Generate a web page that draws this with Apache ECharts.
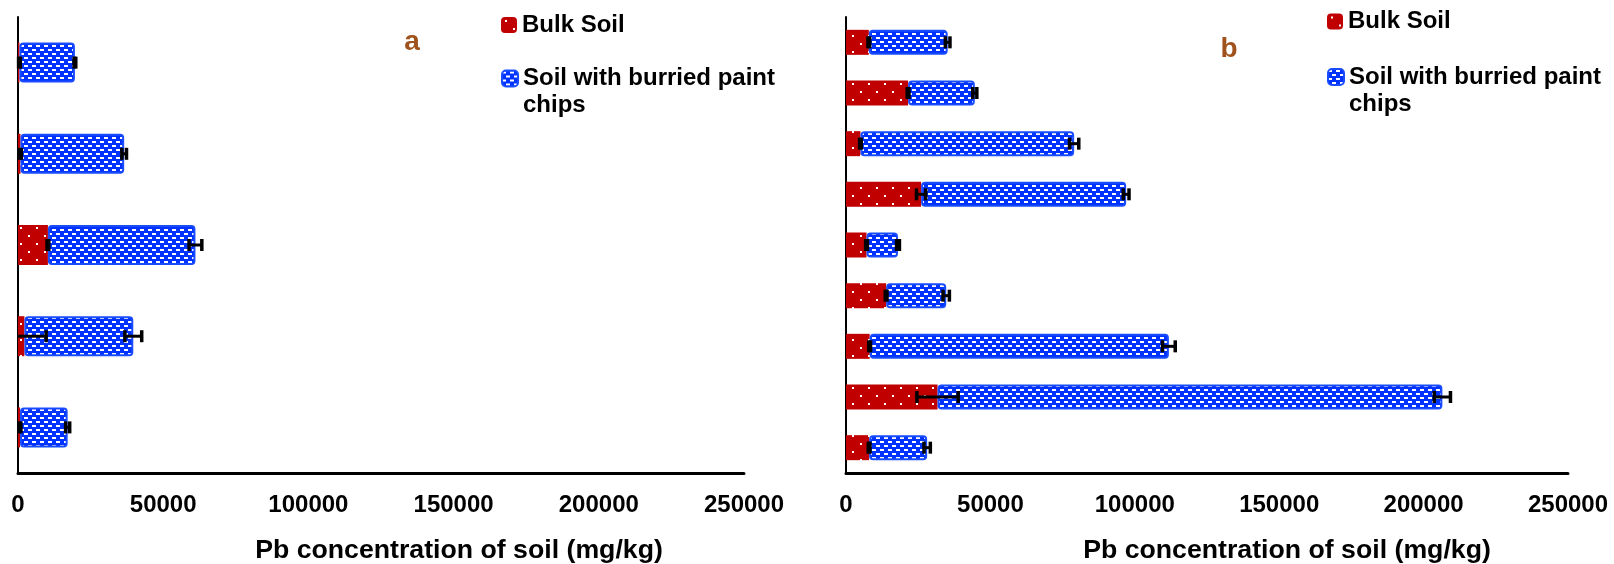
<!DOCTYPE html>
<html>
<head>
<meta charset="utf-8">
<script src="https://cdn.jsdelivr.net/npm/echarts@6/dist/echarts.min.js"></script>
<style>
html,body{margin:0;padding:0;background:#fff;}
#chart{width:1614px;height:564px;}
</style>
</head>
<body>
<div id="chart"></div>
<script>
// ---- data ----
const catsA = ['A1', 'A2', 'A3', 'A4', 'A5'];
const bulkA = [500, 860, 10300, 2200, 700];
const paintA = [19100, 35700, 50800, 37500, 16400];
const bulkErrA = [300, 300, 300, 7500, 300];
const paintErrA = [300, 800, 2200, 2900, 700];

const catsB = ['B1', 'B2', 'B3', 'B4', 'B5', 'B6', 'B7', 'B8', 'B9'];
const bulkB = [7900, 21500, 5000, 26000, 7100, 13900, 8200, 31700, 8000];
const paintB = [27300, 23100, 74000, 71000, 10900, 20800, 103600, 174800, 20100];
const bulkErrB = [300, 300, 300, 1600, 300, 300, 300, 7150, 300];
const paintErrB = [800, 700, 1600, 1000, 500, 1100, 2200, 2800, 1100];

const xTicks = [0, 50000, 100000, 150000, 200000, 250000];
const seriesNames = ['Bulk Soil', 'Soil with burried paint chips'];
const panelLabels = ['a', 'b'];
const axisTitle = 'Pb concentration of soil (mg/kg)';

// ---- patterns ----
function bluePattern() {
  const c = document.createElement('canvas');
  c.width = 8; c.height = 8;
  const g = c.getContext('2d');
  g.fillStyle = '#0033ff'; g.fillRect(0, 0, 8, 8);
  g.fillStyle = '#ffffff';
  g.fillRect(0, 1, 4, 2);
  g.fillRect(4, 5, 4, 2);
  return c;
}
function redPattern() {
  const c = document.createElement('canvas');
  c.width = 16; c.height = 16;
  const g = c.getContext('2d');
  g.fillStyle = '#c00000'; g.fillRect(0, 0, 16, 16);
  g.fillStyle = '#ffffff';
  g.fillRect(4, 3, 2, 2);
  g.fillRect(12, 11, 2, 2);
  return c;
}
const blueFill = { image: bluePattern(), repeat: 'repeat' };
const redFill = { image: redPattern(), repeat: 'repeat' };

const FONT = '"Liberation Sans", Arial, sans-serif';

function errSeries(idx, centers, errs) {
  return {
    type: 'custom',
    xAxisIndex: idx, yAxisIndex: idx,
    data: centers.map((c, i) => [i, c, errs[i]]),
    encode: { x: 1, y: 0 },
    z: 10,
    silent: true,
    renderItem: function (params, api) {
      const cat = api.value(0), v = api.value(1), e = api.value(2);
      const lowRaw = v - e;
      const lo = Math.max(0, lowRaw), hi = v + e;
      const p0 = api.coord([lo, cat]);
      const p1 = api.coord([hi, cat]);
      const y = p0[1];
      const st = { stroke: '#000', lineWidth: 3 };
      const ch = [
        { type: 'line', shape: { x1: p0[0], y1: y, x2: p1[0], y2: y }, style: st },
        { type: 'line', shape: { x1: p1[0], y1: y - 6, x2: p1[0], y2: y + 6 }, style: { stroke: '#000', lineWidth: 3.5 } }
      ];
      if (lowRaw >= 0) {
        ch.push({ type: 'line', shape: { x1: p0[0], y1: y - 6, x2: p0[0], y2: y + 6 }, style: { stroke: '#000', lineWidth: 3.5 } });
      }
      return { type: 'group', children: ch };
    }
  };
}

function cum(a, b) { return a.map((v, i) => v + b[i]); }

const grids = [
  { left: 18, top: 17, width: 726, height: 456 },
  { left: 846, top: 17, width: 722, height: 456 }
];

function xAxisCfg(gi) {
  return {
    type: 'value', gridIndex: gi, min: xTicks[0], max: xTicks[xTicks.length - 1], interval: 50000,
    axisLine: { show: true, lineStyle: { color: '#000', width: 3 } },
    axisTick: { show: false },
    splitLine: { show: false },
    axisLabel: { color: '#000', fontSize: 24, fontWeight: 'bold', fontFamily: FONT, margin: 20,
      formatter: function (v) { return String(v); } }
  };
}
function yAxisCfg(gi, cats) {
  return {
    type: 'category', gridIndex: gi, data: cats, inverse: true,
    axisLine: { show: true, lineStyle: { color: '#000', width: 2 } },
    axisTick: { show: false },
    axisLabel: { show: false }
  };
}

function barSeries(idx, name, data, fill, isBlue, bw) {
  return {
    type: 'bar', name: name, xAxisIndex: idx, yAxisIndex: idx, stack: 's' + idx,
    data: data, barWidth: bw,
    itemStyle: isBlue
      ? { color: fill, borderColor: '#1a4cff', borderWidth: 2, borderRadius: 3 }
      : { color: fill, borderWidth: 0 }
  };
}

const legendText = { color: '#000', fontSize: 24, fontWeight: 'bold', fontFamily: FONT, lineHeight: 27 };
function legendPair(left, top1, top2) {
  return [
    {
      left: left, top: top1, padding: 0, orient: 'vertical', itemWidth: 16, itemHeight: 16, itemGap: 0,
      icon: 'roundRect', data: [seriesNames[0]], textStyle: legendText, selectedMode: false
    },
    {
      left: left, top: top2, padding: 0, orient: 'vertical', itemWidth: 16, itemHeight: 16, itemGap: 0,
      icon: 'roundRect',
      data: [seriesNames[1]],
      formatter: function () { return ' \nSoil with burried paint\nchips'; },
      textStyle: legendText, selectedMode: false
    }
  ];
}

const option = {
  animation: false,
  backgroundColor: '#fff',
  grid: grids,
  xAxis: [xAxisCfg(0), xAxisCfg(1)],
  yAxis: [yAxisCfg(0, catsA), yAxisCfg(1, catsB)],
  legend: [].concat(legendPair(501, 11.5, 38), legendPair(1327, 8, 36.5)),
  series: [
    barSeries(0, seriesNames[0], bulkA, redFill, false, 40),
    barSeries(0, seriesNames[1], paintA, blueFill, true, 40),
    errSeries(0, bulkA, bulkErrA),
    errSeries(0, cum(bulkA, paintA), paintErrA),
    barSeries(1, seriesNames[0], bulkB, redFill, false, 25),
    barSeries(1, seriesNames[1], paintB, blueFill, true, 25),
    errSeries(1, bulkB, bulkErrB),
    errSeries(1, cum(bulkB, paintB), paintErrB)
  ],
  graphic: [
    { type: 'text', x: 412, y: 42.5, style: { text: panelLabels[0], fill: '#a0521c', font: 'bold 28px ' + FONT, textAlign: 'center', textVerticalAlign: 'middle' } },
    { type: 'text', x: 1229, y: 49.5, style: { text: panelLabels[1], fill: '#a0521c', font: 'bold 28px ' + FONT, textAlign: 'center', textVerticalAlign: 'middle' } },
    { type: 'text', x: 459, y: 550.5, style: { text: axisTitle, fill: '#000', font: 'bold 26.7px ' + FONT, textAlign: 'center', textVerticalAlign: 'middle' } },
    { type: 'text', x: 1287, y: 550.5, style: { text: axisTitle, fill: '#000', font: 'bold 26.7px ' + FONT, textAlign: 'center', textVerticalAlign: 'middle' } }
  ]
};

const chart = echarts.init(document.getElementById('chart'), null, { renderer: 'canvas' });
chart.setOption(option);
</script>
</body>
</html>
